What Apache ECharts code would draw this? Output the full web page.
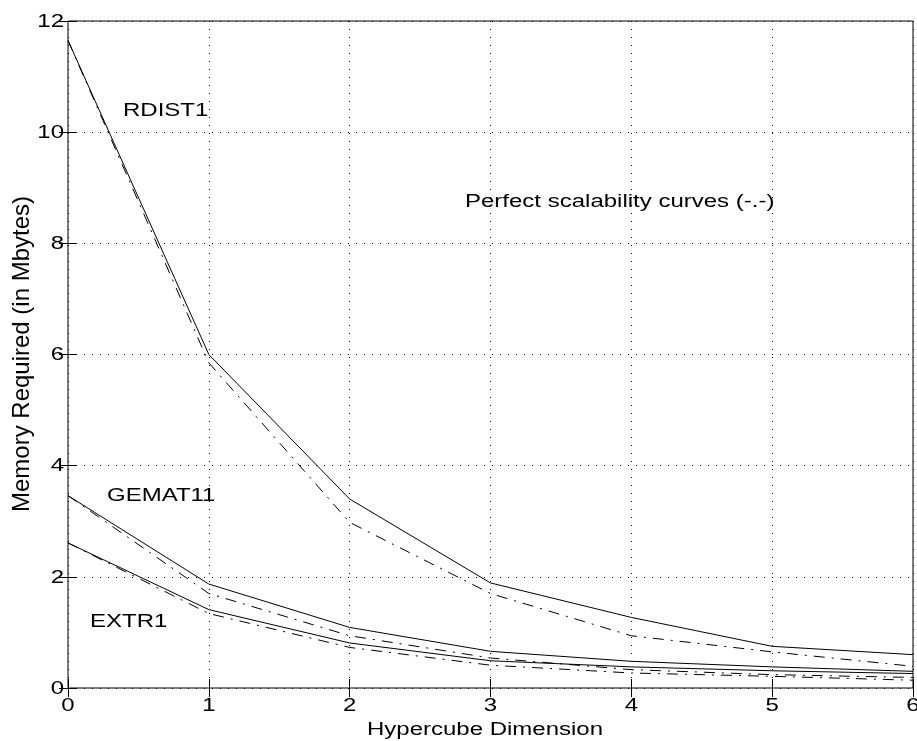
<!DOCTYPE html>
<html><head><meta charset="utf-8">
<script src="https://cdn.jsdelivr.net/npm/echarts@6/dist/echarts.min.js"></script>
<style>html,body{margin:0;padding:0;background:#fff}#c{width:917px;height:741px}</style>
</head><body><div id="c"></div>
<script>
// ---- data ----
const dims = [0, 1, 2, 3, 4, 5, 6];
const rdist1 = [11.65, 6.00, 3.40, 1.89, 1.27, 0.75, 0.60];
const rdist1Perfect = [11.65, 5.85, 2.98, 1.70, 0.94, 0.65, 0.39];
const gemat11 = [3.46, 1.87, 1.09, 0.66, 0.48, 0.38, 0.30];
const gemat11Perfect = [3.46, 1.70, 0.94, 0.54, 0.33, 0.24, 0.19];
const extr1 = [2.61, 1.41, 0.81, 0.49, 0.38, 0.31, 0.26];
const extr1Perfect = [2.61, 1.34, 0.73, 0.41, 0.27, 0.21, 0.14];
const xTickValues = [0, 1, 2, 3, 4, 5, 6];
const xTickLabels = ['0', '1', '2', '3', '4', '5', '6'];
const yTickValues = [0, 2, 4, 6, 8, 10, 12];
const yTickLabels = ['0', '2', '4', '6', '8', '10', '12'];
const xAxisTitle = 'Hypercube Dimension';
const yAxisTitle = 'Memory Required (in Mbytes)';
const annotations = [
  {text: 'RDIST1', px: 123, py: 111},
  {text: 'GEMAT11', px: 107, py: 496},
  {text: 'EXTR1', px: 90, py: 621.5},
  {text: 'Perfect scalability curves (-.-)', px: 465, py: 201.5}
];

// ---- chart ----
const FONT = '"Liberation Sans", Arial, Helvetica, sans-serif';
const SQ = 0.78;
const chart = echarts.init(document.getElementById('c'), null, {renderer: 'canvas'});
const pairs = v => dims.map((d, i) => [d, v[i]]);
const solid = {color: '#000', width: 1, type: 'solid'};
const dashdot = {color: '#000', width: 1, type: [11, 7, 2, 7]};
const tick = {show: true, inside: true, length: 9, lineStyle: {color: '#000', width: 1}};
const grid = {show: true, lineStyle: {color: '#000', width: 1, type: [1, 7]}};

function line(name, v, style) {
  return {name, type: 'line', data: pairs(v), symbol: 'none', smooth: false,
    lineStyle: style, silent: true, z: 3};
}

chart.setOption({
  animation: false,
  grid: {left: 68, right: 4, top: 21, bottom: 53, show: true, borderColor: '#000', borderWidth: 1,
    containLabel: false, outerBoundsMode: 'none'},
  xAxis: [
    {type: 'value', min: 0, max: 6, interval: 1, position: 'bottom', axisLine: {show: false},
      axisTick: tick, axisLabel: {show: false}, splitLine: grid},
    {type: 'value', min: 0, max: 6, interval: 1, position: 'top', axisLine: {show: false},
      axisTick: tick, axisLabel: {show: false}, splitLine: {show: false}}
  ],
  yAxis: [
    {type: 'value', min: 0, max: 12, interval: 2, position: 'left', axisLine: {show: false},
      axisTick: tick, axisLabel: {show: false}, splitLine: grid},
    {type: 'value', min: 0, max: 12, interval: 2, position: 'right', axisLine: {show: false},
      axisTick: tick, axisLabel: {show: false}, splitLine: {show: false}}
  ],
  series: [
    line('RDIST1', rdist1, solid),
    line('RDIST1 perfect', rdist1Perfect, dashdot),
    line('GEMAT11', gemat11, solid),
    line('GEMAT11 perfect', gemat11Perfect, dashdot),
    line('EXTR1', extr1, solid),
    line('EXTR1 perfect', extr1Perfect, dashdot)
  ]
});

function txt(text, x, y, align, opts) {
  return Object.assign({
    type: 'text', x, y, scaleY: SQ, silent: true, z: 10,
    style: {text, fontSize: 24, fontFamily: FONT, fill: '#000',
      align, verticalAlign: 'middle', textAlign: align, textVerticalAlign: 'middle'}
  }, opts || {});
}

const els = [];
xTickValues.forEach((v, i) => {
  const p = chart.convertToPixel({xAxisIndex: 0}, v);
  els.push(txt(xTickLabels[i], p, 705.5, 'center'));
});
yTickValues.forEach((v, i) => {
  const p = chart.convertToPixel({yAxisIndex: 0}, v);
  els.push(txt(yTickLabels[i], 64, p + 0.5, 'right'));
});
annotations.forEach(a => els.push(txt(a.text, a.px, a.py, 'left')));
els.push(txt(xAxisTitle, 485, 730, 'center'));
els.push(txt(yAxisTitle, 22, 354, 'center', {scaleY: 1, rotation: Math.PI / 2}));
chart.setOption({graphic: {elements: els}});
</script></body></html>
